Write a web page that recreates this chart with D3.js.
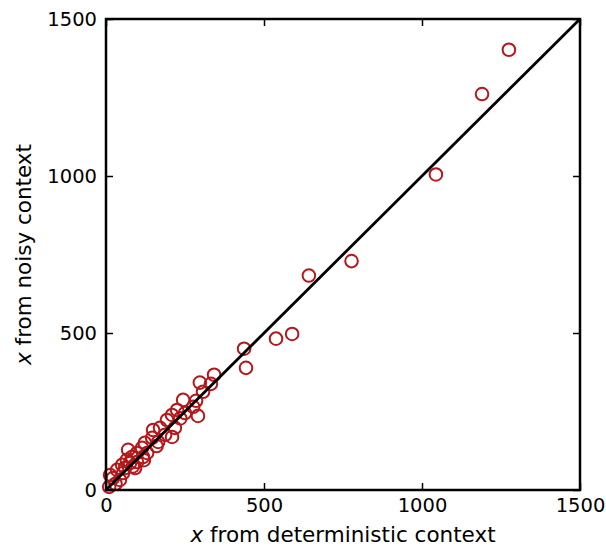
<!DOCTYPE html>
<html>
<head>
<meta charset="utf-8">
<script src="https://cdn.jsdelivr.net/npm/d3@7"></script>
<style>
  body { margin: 0; background: #fff; }
  svg text { font-family: "DejaVu Sans", sans-serif; fill: #000; }
</style>
</head>
<body>
<svg id="chart" width="606" height="548"></svg>
<script>
// x values from the deterministic context vs the noisy context
var detX = [1275, 1190, 1044, 777, 642, 589, 538, 437, 443, 342, 297, 332, 307, 285, 276, 291,
  244, 225, 209, 193, 171, 218, 209, 187, 149, 146, 165, 123, 114, 98, 82, 70, 66, 117, 51, 76,
  98, 35, 54, 22, 44, 13, 60, 92, 130, 250, 235, 160, 120, 85, 30, 10];
var noisyY = [1402, 1261, 1005, 729, 683, 497, 482, 450, 389, 367, 342, 338, 313, 284, 265, 236,
  287, 255, 239, 223, 198, 198, 169, 176, 191, 166, 153, 150, 134, 118, 105, 128, 96, 105, 80, 86,
  89, 64, 54, 38, 32, 48, 70, 70, 118, 245, 228, 140, 95, 75, 20, 10];
var tickVals = [0, 500, 1000, 1500];

var svg = d3.select("#chart");
var margin = {top: 19, right: 26, bottom: 58, left: 106};
var width = 606 - margin.left - margin.right,
  height = 548 - margin.top - margin.bottom;

var g = svg.append("g")
  .attr("transform", "translate(" + margin.left + "," + margin.top + ")");

var x = d3.scaleLinear().domain([0, 1500]).range([0, width]);
var y = d3.scaleLinear().domain([0, 1500]).range([height, 0]);
var fmt = d3.format("d");

// points
var pts = detX.map(function(d, i) { return {x: d, y: noisyY[i]}; });
g.append("g")
  .selectAll("circle")
  .data(pts)
  .enter().append("circle")
  .attr("cx", function(d) { return x(d.x); })
  .attr("cy", function(d) { return y(d.y); })
  .attr("r", 6.3)
  .attr("fill", "none")
  .attr("stroke", "#b5171b")
  .attr("stroke-width", 2);

// identity line
g.append("line")
  .attr("x1", x(0)).attr("y1", y(0))
  .attr("x2", x(1500)).attr("y2", y(1500))
  .attr("stroke", "#000")
  .attr("stroke-width", 2.8);

// axes with inward ticks on every side
function styleAxis(sel) {
  sel.select(".domain").remove();
  sel.selectAll(".tick line").attr("stroke", "#000").attr("stroke-width", 1.5);
  sel.selectAll(".tick text").style("font-size", "19.5px");
}

g.append("g")
  .attr("transform", "translate(0," + height + ")")
  .call(d3.axisBottom(x).tickValues(tickVals).tickSize(-7).tickPadding(8).tickFormat(fmt))
  .call(styleAxis);
g.append("g")
  .call(d3.axisLeft(y).tickValues(tickVals).tickSize(-7).tickPadding(9).tickFormat(fmt))
  .call(styleAxis);
g.append("g")
  .call(d3.axisTop(x).tickValues(tickVals).tickSize(-7).tickFormat(""))
  .call(styleAxis);
g.append("g")
  .attr("transform", "translate(" + width + ",0)")
  .call(d3.axisRight(y).tickValues(tickVals).tickSize(-7).tickFormat(""))
  .call(styleAxis);

// frame
g.append("rect")
  .attr("width", width).attr("height", height)
  .attr("fill", "none")
  .attr("stroke", "#000")
  .attr("stroke-width", 2.5);

// axis titles
var xt = svg.append("text")
  .attr("x", margin.left + width / 2)
  .attr("y", 542)
  .attr("text-anchor", "middle")
  .style("font-size", "21.5px");
xt.append("tspan").style("font-style", "italic").text("x");
xt.append("tspan").text(" from deterministic context");

var yt = svg.append("text")
  .attr("transform", "translate(31," + (margin.top + height / 2) + ") rotate(-90)")
  .attr("text-anchor", "middle")
  .style("font-size", "21.5px");
yt.append("tspan").style("font-style", "italic").text("x");
yt.append("tspan").text(" from noisy context");
</script>
</body>
</html>
